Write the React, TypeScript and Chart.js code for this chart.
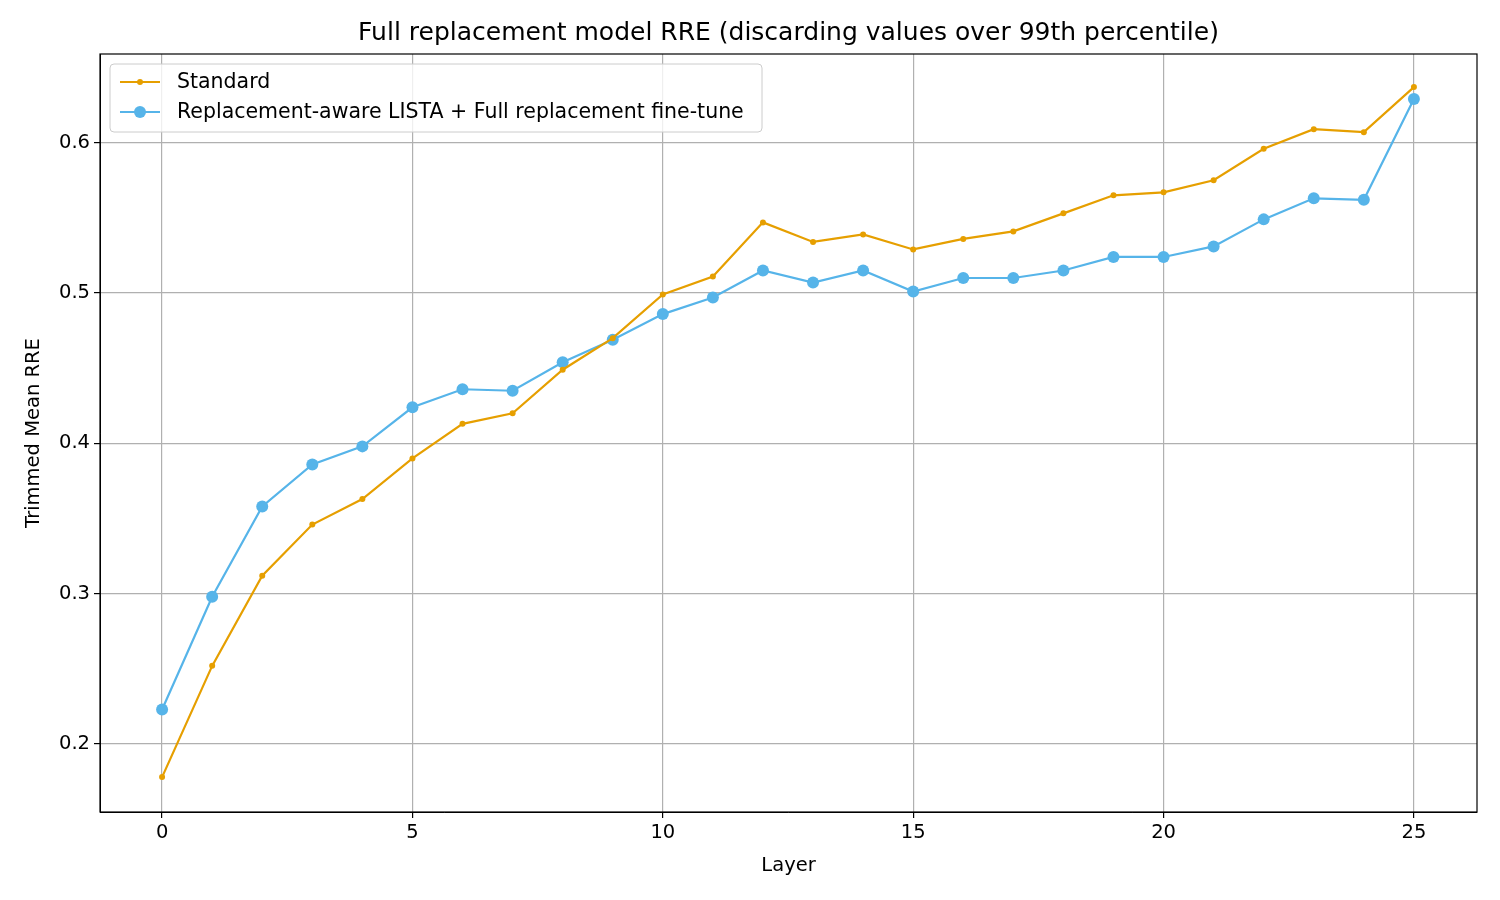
import React, { useEffect, useRef } from "react";
import { Chart, registerables } from "chart.js";
Chart.register(...registerables);

const layers = Array.from({ length: 26 }, (_, i) => i);
const standard = [0.178, 0.252, 0.312, 0.346, 0.363, 0.390, 0.413, 0.420, 0.449, 0.470, 0.499, 0.511, 0.547, 0.534, 0.539, 0.529, 0.536, 0.541, 0.553, 0.565, 0.567, 0.575, 0.596, 0.609, 0.607, 0.637];
const lista = [0.223, 0.298, 0.358, 0.386, 0.398, 0.424, 0.436, 0.435, 0.454, 0.469, 0.486, 0.497, 0.515, 0.507, 0.515, 0.501, 0.510, 0.510, 0.515, 0.524, 0.524, 0.531, 0.549, 0.563, 0.562, 0.629];
const xTicks = [0, 5, 10, 15, 20, 25];
const yTicks = [0.2, 0.3, 0.4, 0.5, 0.6];
const labels = ["Standard", "Replacement-aware LISTA + Full replacement fine-tune"];
const colors = ["#E69F00", "#56B4E9"];
const FONT = "'DejaVu Sans', sans-serif";

const extras = {
  id: "extras",
  afterDraw(chart: any) {
    const { ctx, chartArea: a } = chart;
    ctx.save();
    ctx.strokeStyle = "#000";
    ctx.lineWidth = 1.2;
    ctx.strokeRect(a.left, a.top, a.right - a.left, a.bottom - a.top);
    ctx.fillStyle = "#000";
    ctx.font = `25px ${FONT}`;
    ctx.textAlign = "center";
    ctx.textBaseline = "middle";
    ctx.fillText("Full replacement model RRE (discarding values over 99th percentile)", (a.left + a.right) / 2, 33);
    // legend
    const lx = a.left + 10, ly = a.top + 10, lw = 652, lh = 68;
    ctx.fillStyle = "rgba(255,255,255,0.8)";
    ctx.strokeStyle = "#cccccc";
    ctx.lineWidth = 1;
    ctx.beginPath();
    (ctx as any).roundRect(lx, ly, lw, lh, 4);
    ctx.fill();
    ctx.stroke();
    ctx.font = `20.5px ${FONT}`;
    ctx.textAlign = "left";
    labels.forEach((l, i) => {
      const y = ly + 18 + i * 30;
      ctx.strokeStyle = colors[i];
      ctx.lineWidth = 2.2;
      ctx.beginPath();
      ctx.moveTo(lx + 10, y);
      ctx.lineTo(lx + 50, y);
      ctx.stroke();
      ctx.fillStyle = colors[i];
      ctx.beginPath();
      ctx.arc(lx + 30, y, i === 0 ? 3 : 6, 0, Math.PI * 2);
      ctx.fill();
      ctx.fillStyle = "#000";
      ctx.fillText(l, lx + 67, y + 1);
    });
    ctx.restore();
  },
};

export default function App() {
  const ref = useRef<HTMLCanvasElement>(null);
  useEffect(() => {
    document.body.style.margin = "0";
    const chart = new Chart(ref.current!, {
      type: "line",
      data: {
        datasets: [
          { label: labels[0], data: layers.map((x, i) => ({ x, y: standard[i] })), borderColor: colors[0], backgroundColor: colors[0], borderWidth: 2.2, pointRadius: 3, pointBorderWidth: 0, order: 1 },
          { label: labels[1], data: layers.map((x, i) => ({ x, y: lista[i] })), borderColor: colors[1], backgroundColor: colors[1], borderWidth: 2.2, pointRadius: 6, pointBorderWidth: 0, order: 2 },
        ],
      },
      options: {
        animation: false,
        responsive: false,
        layout: { padding: { top: 54, right: 23, left: 0, bottom: 0 } },
        plugins: { legend: { display: false }, title: { display: false }, tooltip: { enabled: false } },
        scales: {
          x: {
            type: "linear", min: -1.24, max: 26.26,
            afterBuildTicks: (s: any) => { s.ticks = xTicks.map((v) => ({ value: v })); },
            afterFit: (s: any) => { s.height = 88; },
            grid: { color: "#b0b0b0", tickColor: "#000", tickLength: 6, lineWidth: 1.2 },
            border: { color: "#000" },
            ticks: { color: "#000", font: { size: 19.5, family: FONT }, padding: 3 },
            title: { display: true, text: "Layer", color: "#000", font: { size: 19.5, family: FONT }, padding: { top: 0, bottom: 22 } },
          },
          y: {
            type: "linear", min: 0.1548, max: 0.659,
            afterBuildTicks: (s: any) => { s.ticks = yTicks.map((v) => ({ value: v })); },
            afterFit: (s: any) => { s.width = 100; },
            grid: { color: "#b0b0b0", tickColor: "#000", tickLength: 6, lineWidth: 1.2 },
            border: { color: "#000" },
            ticks: { color: "#000", font: { size: 19.5, family: FONT }, padding: 4, callback: (v: any) => Number(v).toFixed(1) },
            title: { display: true, text: "Trimmed Mean RRE", color: "#000", font: { size: 19.5, family: FONT }, padding: { top: 22, bottom: 0 } },
          },
        },
      },
      plugins: [extras],
    });
    return () => chart.destroy();
  }, []);
  return <canvas ref={ref} width={1500} height={900} style={{ display: "block" }} />;
}
